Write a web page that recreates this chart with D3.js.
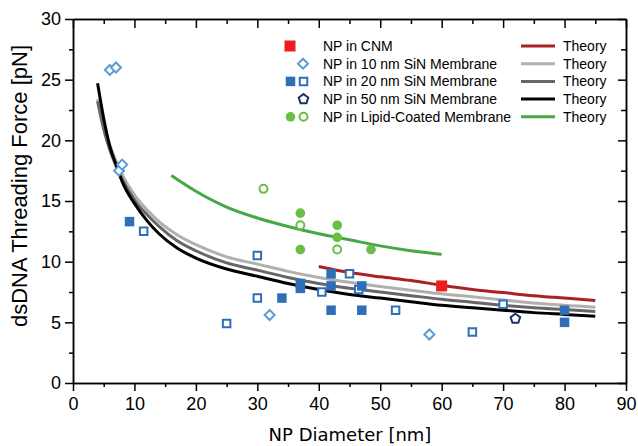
<!DOCTYPE html>
<html>
<head>
<meta charset="utf-8">
<script src="https://cdn.jsdelivr.net/npm/d3@7"></script>
<style>
  body { margin: 0; background: #fff; }
  text { font-family: "Liberation Sans", Arial, sans-serif; }
</style>
</head>
<body>
<div id="root"></div>
<script>
// measured points
const cnm = [[60, 8]]
const sin10 = [[6, 25.8], [7, 26], [7.5, 17.5], [8, 18], [32, 5.6], [58, 4]]
const sin20Filled = [[9.2, 13.3], [34, 7], [37, 8.2], [37, 7.8], [42, 9], [42, 8], [42, 6], [47, 8], [47, 6], [80, 6], [80, 5]]
const sin20Open = [[11.5, 12.5], [25, 4.9], [30, 10.5], [30, 7], [40.5, 7.5], [45, 9], [46.5, 7.7], [52.5, 6], [65, 4.2], [70, 6.5]]
const sin50 = [[72, 5.3]]
const lipidFilled = [[37, 14], [37, 11], [43, 13], [43, 12], [48.5, 11]]
const lipidOpen = [[31, 16], [37, 13], [43, 11]]

// theory curves
const theoryCNM = [[40, 9.6], [45, 9.1], [50, 8.75], [55, 8.45], [60, 8.05], [65, 7.7], [70, 7.45], [75, 7.2], [80, 7.0], [85, 6.8]]
const theory10 = [[4, 23.4], [5, 21.2], [6, 19.6], [7, 18.3], [8, 17.2], [10, 15.5], [12, 14.3], [14, 13.3], [17, 12.2], [20, 11.4], [25, 10.4], [30, 9.8], [35, 9.2], [40, 8.7], [45, 8.3], [50, 7.95], [55, 7.65], [60, 7.35], [65, 7.1], [70, 6.85], [75, 6.6], [80, 6.4], [85, 6.25]]
const theory20 = [[4, 23.2], [5, 20.9], [6, 19.2], [7, 17.9], [8, 16.8], [10, 15.1], [12, 13.9], [14, 12.9], [17, 11.7], [20, 10.9], [25, 9.9], [30, 9.3], [35, 8.7], [40, 8.2], [45, 7.8], [50, 7.5], [55, 7.2], [60, 6.9], [65, 6.65], [70, 6.4], [75, 6.2], [80, 6.05], [85, 5.9]]
const theory50 = [[4, 24.7], [5, 21.8], [6, 19.5], [7, 18.0], [8, 16.6], [10, 14.8], [12, 13.4], [14, 12.3], [17, 11.1], [20, 10.3], [25, 9.4], [30, 8.8], [35, 8.2], [40, 7.7], [45, 7.3], [50, 7.0], [55, 6.7], [60, 6.4], [65, 6.2], [70, 6.0], [75, 5.8], [80, 5.65], [85, 5.5]]
const theoryLipid = [[16, 17.1], [20, 15.8], [25, 14.5], [30, 13.6], [35, 12.9], [40, 12.3], [45, 11.8], [50, 11.3], [55, 10.9], [60, 10.6]]

const xTicks = [0, 10, 20, 30, 40, 50, 60, 70, 80, 90]
const xMinor = [5, 15, 25, 35, 45, 55, 65, 75, 85]
const yTicks = [0, 5, 10, 15, 20, 25, 30]
const yMinor = [2.5, 7.5, 12.5, 17.5, 22.5, 27.5]

const legendLabels = ["NP in CNM", "NP in 10 nm SiN Membrane", "NP in 20 nm SiN Membrane", "NP in 50 nm SiN Membrane", "NP in Lipid-Coated Membrane"]

const C = {
  red: "#ee1c1c", redLine: "#a82224",
  lightBlue: "#5b9bd5", blue: "#2e6fb8", navy: "#1f2e6e",
  green: "#6abd45", greenLine: "#45a845",
  gray1: "#b0b0b0", gray2: "#666666", black: "#000"
}

const width = 638, height = 446
const svg = d3.select("#root").append("svg").attr("width", width).attr("height", height)

const x = d3.scaleLinear().domain([0, 90]).range([73, 626])
const y = d3.scaleLinear().domain([0, 30]).range([383, 19])

// axes
function styleAxis(g) {
  g.selectAll("path.domain").attr("stroke", "#000").attr("stroke-width", 1.5)
  g.selectAll(".tick line").attr("stroke", "#000").attr("stroke-width", 1.5)
  g.selectAll(".tick text").attr("font-size", 18).attr("fill", "#000")
}
svg.append("g").attr("transform", "translate(0,383)")
  .call(d3.axisBottom(x).tickValues(xMinor).tickSize(4).tickSizeOuter(0).tickFormat(""))
  .call(styleAxis)
svg.append("g").attr("transform", "translate(0,383)")
  .call(d3.axisBottom(x).tickValues(xTicks).tickSize(8).tickSizeOuter(0).tickPadding(6))
  .call(styleAxis)
svg.append("g").attr("transform", "translate(0,19)")
  .call(d3.axisTop(x).tickValues(xMinor).tickSize(-5).tickSizeOuter(0).tickFormat(""))
  .call(styleAxis)
svg.append("g").attr("transform", "translate(0,19)")
  .call(d3.axisTop(x).tickValues(xTicks).tickSize(-9).tickSizeOuter(0).tickFormat(""))
  .call(styleAxis)
svg.append("g").attr("transform", "translate(73,0)")
  .call(d3.axisLeft(y).tickValues(yMinor).tickSize(4).tickSizeOuter(0).tickFormat(""))
  .call(styleAxis)
svg.append("g").attr("transform", "translate(73,0)")
  .call(d3.axisLeft(y).tickValues(yTicks).tickSize(8).tickSizeOuter(0).tickPadding(4))
  .call(styleAxis)
svg.append("g").attr("transform", "translate(626,0)")
  .call(d3.axisRight(y).tickValues(yMinor).tickSize(-5).tickSizeOuter(0).tickFormat(""))
  .call(styleAxis)
svg.append("g").attr("transform", "translate(626,0)")
  .call(d3.axisRight(y).tickValues(yTicks).tickSize(-8).tickSizeOuter(0).tickFormat(""))
  .call(styleAxis)

// axis titles
svg.append("text")
  .attr("transform", "translate(27,186) rotate(-90)")
  .attr("text-anchor", "middle")
  .attr("font-size", 22)
  .text("dsDNA Threading Force [pN]")
svg.append("text")
  .attr("x", 350).attr("y", 441)
  .attr("text-anchor", "middle")
  .attr("font-size", 18)
  .style("font-family", "DejaVu Sans, Verdana")
  .text("NP Diameter [nm]")

// theory lines
const line = d3.line().x(d => x(d[0])).y(d => y(d[1])).curve(d3.curveMonotoneX)
const curves = [
  [theory10, C.gray1], [theory20, C.gray2], [theory50, C.black],
  [theoryCNM, C.redLine], [theoryLipid, C.greenLine]
]
curves.forEach(([data, col]) => {
  svg.append("path").attr("d", line(data))
    .attr("fill", "none").attr("stroke", col).attr("stroke-width", 3)
})

// markers
const sq = s => `M${-s / 2},${-s / 2}h${s}v${s}h${-s}Z`
const dia = s => `M0,${-s / 2}L${s / 2},0L0,${s / 2}L${-s / 2},0Z`
const penta = r => d3.range(5).map(i => {
  const a = -Math.PI / 2 + i * 2 * Math.PI / 5
  return (i ? "L" : "M") + (r * Math.cos(a)).toFixed(2) + "," + (r * Math.sin(a)).toFixed(2)
}).join("") + "Z"
const circ = r => `M${r},0A${r},${r} 0 1,1 ${-r},0A${r},${r} 0 1,1 ${r},0Z`

function drawMarks(data, path, fill, stroke, sw) {
  svg.append("g").selectAll("path").data(data).join("path")
    .attr("transform", d => `translate(${x(d[0])},${y(d[1])})`)
    .attr("d", path)
    .attr("fill", fill).attr("stroke", stroke).attr("stroke-width", sw)
}
drawMarks(sin10, dia(10), "#fff", C.lightBlue, 2)
drawMarks(sin20Open, sq(7.5), "#fff", C.blue, 2)
drawMarks(sin20Filled, sq(9.5), C.blue, "none", 0)
drawMarks(sin50, penta(5), "#fff", C.navy, 2)
drawMarks(lipidOpen, circ(4), "#fff", C.green, 2)
drawMarks(lipidFilled, circ(4.8), C.green, "none", 0)
drawMarks(cnm, sq(11), C.red, "none", 0)

// legend
const legY = d3.range(5).map(i => 46 + i * 17.7)
const leg = svg.append("g")
function legMark(px, py, path, fill, stroke, sw) {
  leg.append("path").attr("transform", `translate(${px},${py})`).attr("d", path)
    .attr("fill", fill).attr("stroke", stroke).attr("stroke-width", sw)
}
legMark(290, legY[0], sq(11), C.red, "none", 0)
legMark(303, legY[1], dia(10), "#fff", C.lightBlue, 2)
legMark(290.5, legY[2], sq(9.5), C.blue, "none", 0)
legMark(303.5, legY[2], sq(7.5), "#fff", C.blue, 2)
legMark(303.5, legY[3], penta(5), "#fff", C.navy, 2)
legMark(290.5, legY[4], circ(4.8), C.green, "none", 0)
legMark(303.5, legY[4], circ(4), "#fff", C.green, 2)

leg.selectAll("text.lab").data(legendLabels).join("text").attr("class", "lab")
  .attr("x", 323).attr("y", (d, i) => legY[i] + 5)
  .attr("font-size", 14).text(d => d)

const theoryCols = [C.redLine, C.gray1, C.gray2, C.black, C.greenLine]
theoryCols.forEach((col, i) => {
  leg.append("line").attr("x1", 521).attr("x2", 555).attr("y1", legY[i]).attr("y2", legY[i])
    .attr("stroke", col).attr("stroke-width", 3)
  leg.append("text").attr("x", 563).attr("y", legY[i] + 5).attr("font-size", 14).text("Theory")
})
</script>
</body>
</html>
